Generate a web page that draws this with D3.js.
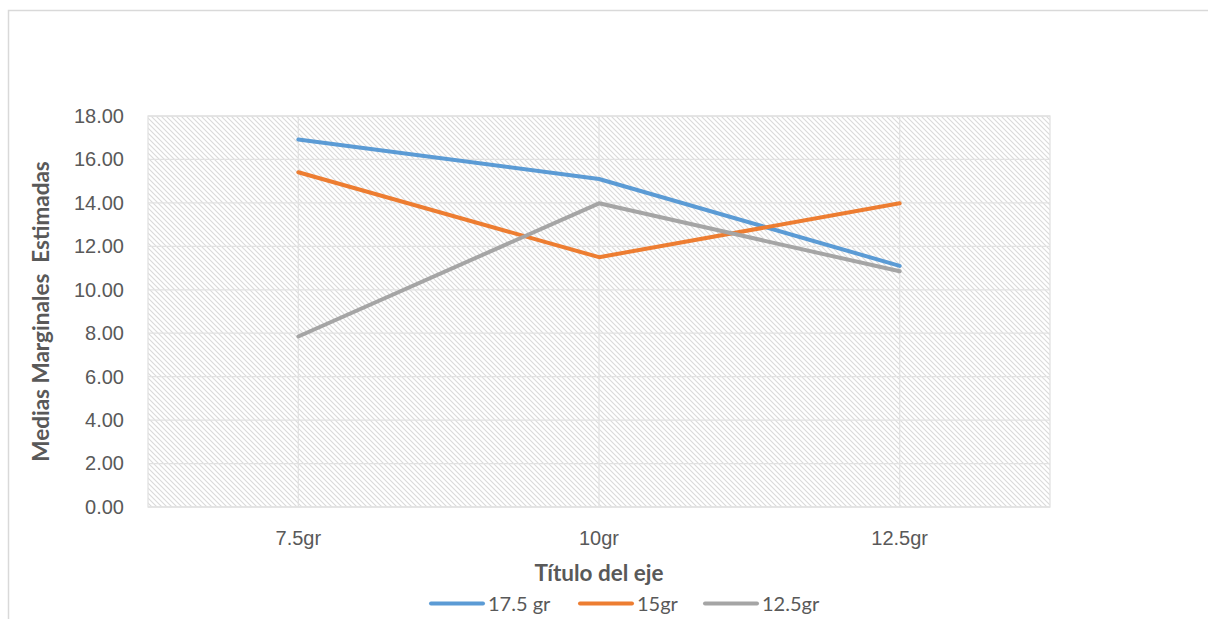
<!DOCTYPE html>
<html><head><meta charset="utf-8">
<script src="https://cdn.jsdelivr.net/npm/d3@7"></script>
<style>body{margin:0;background:#fff;} svg{display:block;font-family:Lato,"Open Sans",sans-serif;}</style>
</head><body>
<svg id="c" width="1208" height="619"></svg>
<script>
const categories = ["7.5gr","10gr","12.5gr"];
const seriesNames = ["17.5 gr","15gr","12.5gr"];
const s175 = [16.92, 15.10, 11.10];
const s15 = [15.41, 11.50, 13.98];
const s125 = [7.85, 13.98, 10.85];
const yTicks = [0,2,4,6,8,10,12,14,16,18];
const colors = ["#5B9BD5","#ED7D31","#A5A5A5"];
const allSeries = [s175, s15, s125];

const svg = d3.select("#c");
const L=148, R=1050, T=116, B=507;
const FS = 20, TFS = 22.5;

svg.append("rect").attr("x",8.5).attr("y",10.5).attr("width",1240).attr("height",700)
  .attr("fill","#fff").attr("stroke","#d9d9d9").attr("stroke-width",1.5);

const defs = svg.append("defs");
const pat = defs.append("pattern").attr("id","hatch").attr("patternUnits","userSpaceOnUse")
  .attr("width",5).attr("height",5);
pat.append("rect").attr("width",5).attr("height",5).attr("fill","#fff");
pat.append("path").attr("d","M-1,-1 L6,6 M-1,4 L1,6 M4,-1 L6,1").attr("stroke","#dadada").attr("stroke-width",1.1);

const x = d3.scaleBand().domain(categories).range([L,R]);
const y = d3.scaleLinear().domain([0,18]).range([B,T]);

svg.append("rect").attr("x",L).attr("y",T).attr("width",R-L).attr("height",B-T).attr("fill","url(#hatch)");

// gridlines
svg.append("g").selectAll("line").data(yTicks).join("line")
  .attr("x1",L).attr("x2",R).attr("y1",d=>y(d)).attr("y2",d=>y(d))
  .attr("stroke","#e2e2e2").attr("stroke-width",1.3);
svg.append("g").selectAll("line").data(categories).join("line")
  .attr("x1",d=>x(d)+x.bandwidth()/2).attr("x2",d=>x(d)+x.bandwidth()/2).attr("y1",T).attr("y2",B)
  .attr("stroke","#e2e2e2").attr("stroke-width",1.3);
svg.append("rect").attr("x",L).attr("y",T).attr("width",R-L).attr("height",B-T)
  .attr("fill","none").attr("stroke","#e2e2e2").attr("stroke-width",1.3);

// axes
const yAxis = d3.axisLeft(y).tickValues(yTicks).tickFormat(d3.format(".2f")).tickSize(0).tickPadding(24);
const gy = svg.append("g").attr("transform",`translate(${L},0)`).call(yAxis);
gy.select(".domain").remove();
gy.selectAll("text").attr("fill","#595959").attr("font-size",FS+"px");

const xAxis = d3.axisBottom(x).tickSize(0).tickPadding(24);
const gx = svg.append("g").attr("transform",`translate(0,${B})`).call(xAxis);
gx.select(".domain").remove();
gx.selectAll("text").attr("fill","#595959").attr("font-size",FS+"px");

// lines
const line = d3.line().x((d,i)=>x(categories[i])+x.bandwidth()/2).y(d=>y(d));
svg.append("g").selectAll("path").data(allSeries).join("path")
  .attr("d",line).attr("fill","none").attr("stroke",(d,i)=>colors[i])
  .attr("stroke-width",4).attr("stroke-linecap","round").attr("stroke-linejoin","round");

// titles
svg.append("text").attr("x",599).attr("y",581).attr("text-anchor","middle")
  .attr("font-weight","bold").attr("font-size",TFS+"px").attr("fill","#595959").text("Título del eje");
svg.append("text").attr("transform",`translate(49,${(T+B)/2}) rotate(-90)`).attr("text-anchor","middle")
  .attr("font-weight","bold").attr("font-size",TFS+"px").attr("fill","#595959")
  .attr("xml:space","preserve").style("white-space","pre").text("Medias Marginales  Estimadas");

// legend
const legX = [431, 580, 705];
const lg = svg.append("g");
seriesNames.forEach((n,i)=>{
  lg.append("line").attr("x1",legX[i]).attr("x2",legX[i]+52).attr("y1",603.5).attr("y2",603.5)
    .attr("stroke",colors[i]).attr("stroke-width",4).attr("stroke-linecap","round");
  lg.append("text").attr("x",legX[i]+57).attr("y",611).attr("font-size",FS+"px").attr("fill","#595959").text(n);
});
</script>
</body></html>
